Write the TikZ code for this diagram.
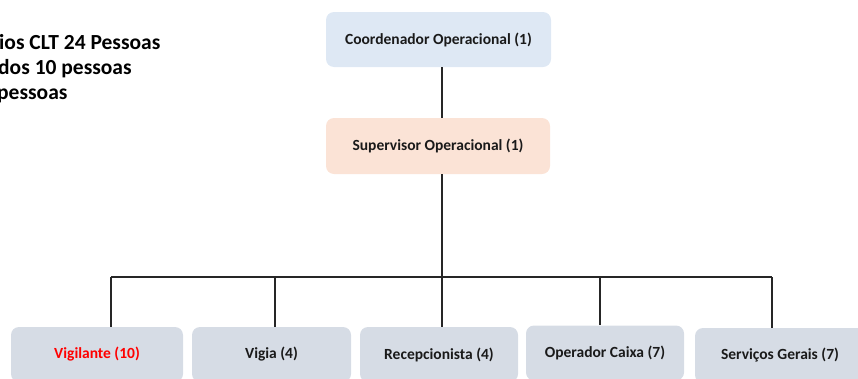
\documentclass[tikz,border=0pt]{standalone}
\usepackage{fontspec}
\setmainfont{Carlito}
\definecolor{topfill}{HTML}{DEE8F4}
\definecolor{supfill}{HTML}{FBE3D6}
\definecolor{botfill}{HTML}{D6DCE5}
\definecolor{txt}{HTML}{1A1A1A}
\begin{document}
\begin{tikzpicture}[x=1pt,y=-1pt,
  box/.style={rounded corners=8pt, draw=none, inner sep=0pt, font=\bfseries\fontsize{15.5}{18}\selectfont, text=txt},
  conn/.style={draw=black!85, line width=1.1pt},
  note/.style={anchor=base west, inner sep=0pt, font=\bfseries\fontsize{21.5}{24}\selectfont, text=black}]
\useasboundingbox (0,0) rectangle (858,378);
\clip (0,0) rectangle (858,378);
% boxes
\node[box, fill=topfill, minimum width=225pt, minimum height=55pt] (coord) at (438.5,39.5) {Coordenador Operacional (1)};
\node[box, fill=supfill, minimum width=224pt, minimum height=56pt] (sup) at (438,146) {Supervisor Operacional (1)};
\node[box, fill=botfill, minimum width=172pt, minimum height=55pt] (vigl) at (97,354.5) {\textcolor{red}{Vigilante (10)}};
\node[box, fill=botfill, minimum width=159pt, minimum height=55pt] (vigia) at (271.5,354.5) {Vigia (4)};
\node[box, fill=botfill, minimum width=158pt, minimum height=55pt] (recep) at (439,354.5) {Recepcionista (4)};
\node[box, fill=botfill, minimum width=158pt, minimum height=55pt] (oper) at (605,353) {Operador Caixa (7)};
\node[box, fill=botfill, minimum width=170pt, minimum height=55pt] (serv) at (780,355.5) {Serviços Gerais (7)};
% bus
\coordinate (busL) at (111,277);
\coordinate (busR) at (772,277);
\coordinate (busC) at (442,277);
% connectors
\draw[conn] (coord.south -| 442,0) -- (sup.north -| 442,0);
\draw[conn] (sup.south -| 442,0) -- (busC);
\draw[conn] (busL) -- (busR);
\draw[conn] (busL) -- (vigl.north -| busL);
\draw[conn] (275,277) coordinate (b2) -- (vigia.north -| b2);
\draw[conn] (busC) -- (recep.north -| busC);
\draw[conn] (600,277) coordinate (b4) -- (oper.north -| b4);
\draw[conn] (busR) -- (serv.north -| busR);
% notes
\node[note] (n1) at (-1,49) {ios CLT 24 Pessoas};
\node[note] (n2) at (-2,74) {dos 10 pessoas};
\node[note] (n3) at (-3,99) {pessoas};
\end{tikzpicture}
\end{document}
